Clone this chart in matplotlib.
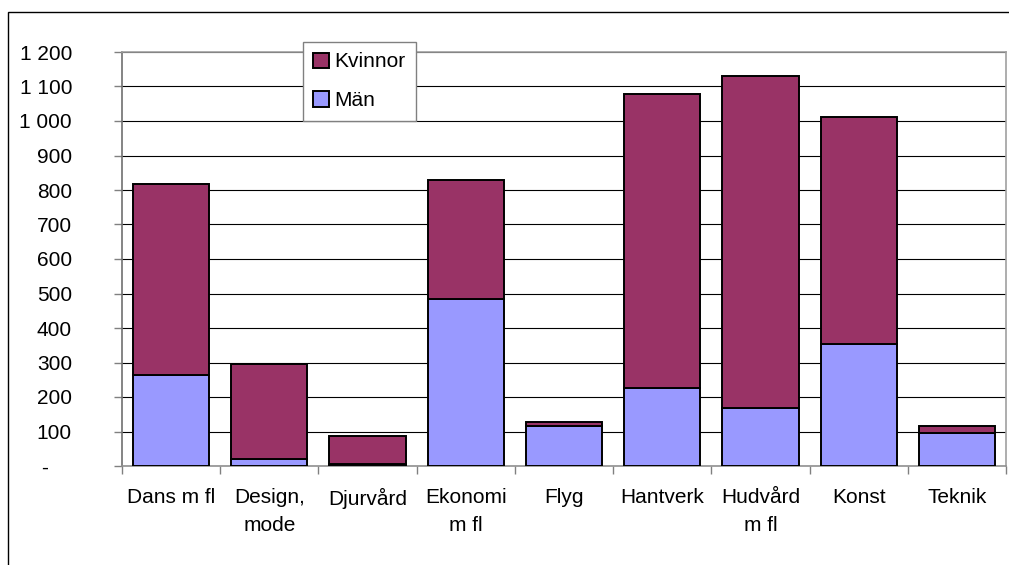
import matplotlib.pyplot as plt
from matplotlib.patches import Rectangle
from matplotlib.ticker import FixedLocator, FuncFormatter

categories = ["Dans m fl", "Design,\nmode", "Djurvård", "Ekonomi\nm fl", "Flyg",
              "Hantverk", "Hudvård\nm fl", "Konst", "Teknik"]
man = [265, 21, 5, 485, 115, 225, 167, 353, 97]
kvinnor = [552, 274, 82, 343, 12, 852, 962, 660, 19]

plt.rcParams["font.family"] = ["Liberation Sans", "DejaVu Sans"]
plt.rcParams["font.size"] = 15

W, H = 1009, 565
fig = plt.figure(figsize=(W / 100, H / 100), dpi=100)

# outer chart frame (only left and top edge visible)
fig.add_artist(Rectangle((8 / W, -0.2), 2.0, 1.2 - 12 / H, transform=fig.transFigure,
                         fill=False, edgecolor="black", linewidth=1.0))

ax = fig.add_axes([122 / W, 1 - 466 / H, (1006 - 122) / W, (466 - 52) / H])

x = list(range(len(categories)))
b1 = ax.bar(x, man, width=0.775, color="#9999FF", edgecolor="black", linewidth=1.4,
            label="Män", zorder=3)
b2 = ax.bar(x, kvinnor, width=0.775, bottom=man, color="#993366", edgecolor="black",
            linewidth=1.4, label="Kvinnor", zorder=3)

ax.set_xlim(-0.5, len(categories) - 0.5)
ax.set_ylim(0, 1200)

ax.set_yticks(range(0, 1201, 100))


def fmt(v, pos):
    if v == 0:
        return "-    "
    return f"{int(v):,}".replace(",", " ")


ax.yaxis.set_major_formatter(FuncFormatter(fmt))
ax.tick_params(axis="y", length=6, width=1, color="#808080", pad=30)
ax.yaxis.grid(True, color="black", linewidth=0.8, zorder=1)

ax.set_xticks(x)
ax.set_xticklabels(categories, linespacing=1.6)
ax.xaxis.set_minor_locator(FixedLocator([i - 0.5 for i in range(len(categories) + 1)]))
ax.tick_params(axis="x", which="major", length=0, pad=16)
ax.tick_params(axis="x", which="minor", length=6, width=1, color="#808080")

for s in ["top", "right"]:
    ax.spines[s].set_color("#A0A0A0")
    ax.spines[s].set_linewidth(1.2)
ax.spines["left"].set_color("#707070")
ax.spines["bottom"].set_color("#909090")
ax.spines["left"].set_linewidth(1.2)
ax.spines["bottom"].set_linewidth(1.2)

leg = fig.legend([b2, b1], ["Kvinnor", "Män"], loc="upper left",
                 bbox_to_anchor=(303 / W, 1 - 42 / H), borderaxespad=0,
                 fancybox=False, edgecolor="#808080", framealpha=1,
                 handlelength=0.75, handleheight=0.75, handletextpad=0.25,
                 labelspacing=0.95, borderpad=0.5, fontsize=15)
leg.get_frame().set_linewidth(1.0)

fig.savefig("out.png", dpi=100)
